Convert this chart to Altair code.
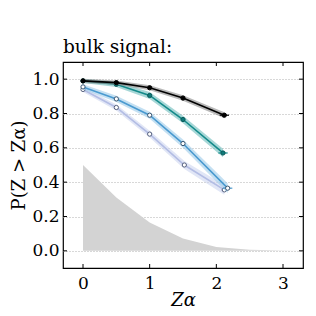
import altair as alt
import pandas as pd

# ---- data ----
za_black = [0.0, 0.5, 1.0, 1.5, 2.12]
p_black = [0.99, 0.98, 0.95, 0.89, 0.79]
err_black = [0.012, 0.012, 0.014, 0.016, 0.018]

za_teal = [0.0, 0.5, 1.0, 1.5, 2.10]
p_teal = [0.99, 0.97, 0.905, 0.765, 0.57]
err_teal = [0.012, 0.015, 0.02, 0.022, 0.025]

za_blue = [0.0, 0.5, 1.0, 1.5, 2.17]
p_blue = [0.955, 0.885, 0.79, 0.625, 0.365]
err_blue = [0.015, 0.018, 0.02, 0.024, 0.028]

za_lav = [0.0, 0.5, 1.0, 1.52, 2.12]
p_lav = [0.94, 0.835, 0.68, 0.50, 0.355]
err_lav = [0.015, 0.018, 0.02, 0.024, 0.028]

xerr_last = [0.07, 0.07, 0.07, 0.05]

dist_x = [0.0, 0.5, 1.0, 1.5, 2.0, 2.5, 3.0, 3.3]
dist_y = [0.5, 0.31, 0.165, 0.072, 0.023, 0.007, 0.002, 0.0]

x_ticks = [0, 1, 2, 3]
y_ticks = [0.0, 0.2, 0.4, 0.6, 0.8, 1.0]

FONT = "DejaVu Serif"
xs = alt.Scale(domain=[-0.3, 3.3], nice=False, zero=False)
ys = alt.Scale(domain=[-0.1, 1.1], nice=False, zero=False)

series = [
    ("lav", za_lav, p_lav, err_lav, "#b3bde4", "#cdd5f0", "#ffffff", "#55607d", 0.6, xerr_last[3]),
    ("blue", za_blue, p_blue, err_blue, "#4a9ad0", "#9ccbe9", "#ffffff", "#3a5570", 0.6, xerr_last[2]),
    ("teal", za_teal, p_teal, err_teal, "#138a8a", "#6cbcbc", "#0e7a7a", "#0a5a5a", 0.6, xerr_last[1]),
    ("black", za_black, p_black, err_black, "#000000", "#8a8a8a", "#000000", "#000000", 0.6, xerr_last[0]),
]

dist_df = pd.DataFrame({"x": dist_x, "y": dist_y})
layers = [
    alt.Chart(dist_df).mark_area(color="#d3d3d3", opacity=1, clip=True).encode(
        x=alt.X("x:Q", scale=xs, axis=alt.Axis(values=x_ticks, title="Zα", format="d")),
        y=alt.Y("y:Q", scale=ys, axis=alt.Axis(values=y_ticks, title="P(Z > Zα)", format=".1f")),
    )
]

for name, xv, yv, ev, lc, bc, mf, ms, bo, xe in series:
    df = pd.DataFrame({"x": xv, "y": yv,
                       "lo": [a - b for a, b in zip(yv, ev)],
                       "hi": [a + b for a, b in zip(yv, ev)]})
    last = df.tail(1).copy()
    last["xl"] = last["x"] - xe
    last["xh"] = last["x"] + xe
    base = alt.Chart(df)
    layers.append(base.mark_area(color=bc, opacity=bo).encode(
        x=alt.X("x:Q", scale=xs), y=alt.Y("lo:Q", scale=ys), y2="hi:Q"))
    layers.append(base.mark_line(color=lc, strokeWidth=1.6).encode(
        x=alt.X("x:Q", scale=xs), y=alt.Y("y:Q", scale=ys)))
    layers.append(alt.Chart(last).mark_rule(color=lc, strokeWidth=1.2).encode(
        x=alt.X("xl:Q", scale=xs), x2="xh:Q", y=alt.Y("y:Q", scale=ys)))
    layers.append(base.mark_point(shape="circle", filled=False, fill=mf, fillOpacity=1,
                                  stroke=ms, strokeWidth=1, size=18, opacity=1).encode(
        x=alt.X("x:Q", scale=xs), y=alt.Y("y:Q", scale=ys)))

xt = pd.DataFrame({"x": x_ticks})
yt = pd.DataFrame({"y": y_ticks})
layers.append(alt.Chart(xt).mark_rule(color="black", strokeWidth=1).encode(
    x=alt.X("x:Q", scale=xs), y=alt.value(0), y2=alt.value(4)))
layers.append(alt.Chart(xt).mark_rule(color="black", strokeWidth=1).encode(
    x=alt.X("x:Q", scale=xs), y=alt.value(206), y2=alt.value(202)))
layers.append(alt.Chart(yt).mark_rule(color="black", strokeWidth=1).encode(
    y=alt.Y("y:Q", scale=ys), x=alt.value(0), x2=alt.value(4)))
layers.append(alt.Chart(yt).mark_rule(color="black", strokeWidth=1).encode(
    y=alt.Y("y:Q", scale=ys), x=alt.value(240), x2=alt.value(236)))

chart = alt.layer(*layers).properties(
    width=240, height=206,
    title=alt.TitleParams("bulk signal:", anchor="start", frame="group", font=FONT, fontSize=18.5,
                          fontWeight="normal", color="black", offset=5),
    autosize=alt.AutoSizeParams(type="none"),
    padding={"left": 55, "top": 54, "right": 5, "bottom": 40},
).configure_view(stroke="black", strokeWidth=1.2).configure_axis(
    labelFont=FONT, titleFont=FONT, labelFontSize=17, titleFontSize=18,
    labelColor="black", titleColor="black", titleFontWeight="normal",
    domain=False, ticks=False, grid=True, gridColor="#b0b0b0", gridDash=[1, 2],
    gridWidth=1, labelPadding=4,
).configure_axisX(grid=False, titleFontStyle="italic", titlePadding=0, labelPadding=7).configure_axisY(
    titlePadding=3)

chart.save("out.html", embed_options={"renderer": "svg", "actions": False})
